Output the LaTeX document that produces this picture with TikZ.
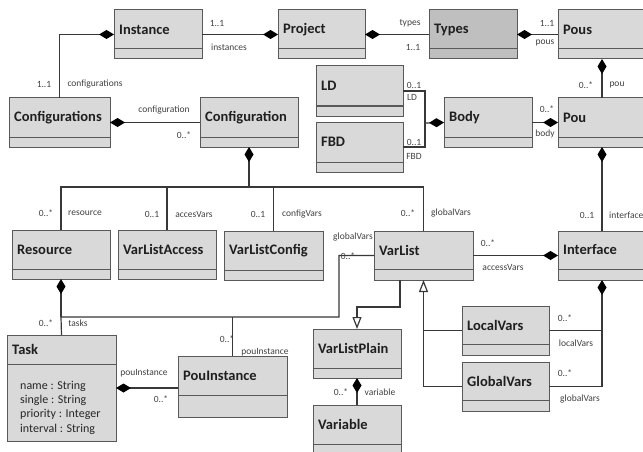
\documentclass[tikz,border=0pt]{standalone}
\usepackage{fontspec}
\setmainfont{Carlito}
\usetikzlibrary{arrows.meta}

\definecolor{boxfill}{HTML}{D9D9D9}
\definecolor{typesfill}{HTML}{BFBFBF}
\definecolor{boxedge}{HTML}{595959}
\definecolor{edge}{HTML}{383838}
\definecolor{labeltext}{HTML}{404040}

\tikzset{
  cls/.style={draw=boxedge, line width=1pt, inner sep=0pt, outer sep=0pt, anchor=north west},
  clstitle/.style={font=\fontsize{14.5}{16}\selectfont\bfseries, text=black!88, anchor=west, inner sep=0pt},
  conn/.style={draw=edge, line width=1.2pt},
  heavy/.style={draw=edge, line width=2pt},
  comp/.style={-{Diamond[length=15pt,width=9pt,fill=black,color=black]}},
  gen/.style={-{Triangle[open,length=12pt,width=9pt,fill=white]}},
  lbl/.style={font=\fontsize{9.5}{10}\selectfont, text=labeltext, inner sep=0pt},
  attrs/.style={font=\fontsize{12}{14.3}\selectfont, text=black!85, align=left, inner sep=0pt, anchor=west},
}

% class box: [fill]{name}{x}{y}{width}{height}{attribute height}{title}
\newcommand{\classbox}[8][boxfill]{%
  \node[cls, fill=#1, minimum width=#5, minimum height=#6] (#2) at (#3,#4) {};
  \draw[boxedge, line width=1pt] ([yshift=#7pt]#2.south west) -- ([yshift=#7pt]#2.south east);
  \pgfmathsetmacro\titleoff{(#6-#7)/2}
  \node[clstitle] at ([xshift=5pt, yshift=-\titleoff pt]#2.north west) {#8};
}

\begin{document}
\begin{tikzpicture}[x=1pt, y=-1pt]
\useasboundingbox (0,0) rectangle (643,452);
\clip (0,0) rectangle (643,452);

% classes
\classbox{inst}{114}{10}{88}{49}{10}{Instance}
\classbox{proj}{278}{10}{87}{49}{10}{Project}
\classbox[typesfill]{types}{429}{10}{88}{49}{10}{Types}
\classbox{pous}{558}{10}{88}{49}{10}{Pous}
\classbox{cfgs}{9}{98}{101}{49}{10}{Configurations}
\classbox{cfg}{200}{98}{98}{49}{10}{Configuration}
\classbox{ld}{316}{66}{87}{50}{10}{LD}
\classbox{fbd}{316}{122}{87}{50}{10}{FBD}
\classbox{body}{444}{98}{88}{49}{10}{Body}
\classbox{pou}{558}{98}{88}{49}{10}{Pou}
\classbox{res}{12}{230}{98}{49}{10}{Resource}
\classbox{vla}{118}{230}{98}{49}{10}{VarListAccess}
\classbox{vlc}{224}{231}{99}{49}{10}{VarListConfig}
\classbox{vl}{374}{231}{99}{49}{11}{VarList}
\classbox{intf}{558}{231}{88}{49}{11}{Interface}
\classbox{task}{7}{335}{109}{106}{77}{Task}
\classbox{pinst}{178}{356}{109}{61}{22}{PouInstance}
\classbox{lv}{462}{306}{87}{49}{11}{LocalVars}
\classbox{gv}{462}{362}{87}{49}{11}{GlobalVars}
\classbox{vlp}{313}{329}{88}{49}{10}{VarListPlain}
\classbox{var}{313}{405}{88}{49}{10}{Variable}

\node[attrs] (taskattrs) at (20,407.5) {name : String\\ single : String\\ priority : Integer\\ interval : String};

% junction points
\coordinate (bodyjoin) at (425,123);
\coordinate (cfgjoin) at (249,187);
\coordinate (resjoin) at (61,317);
\coordinate (resbend) at (339,317);
\coordinate (intfjoin) at (602,387);
\coordinate (plainbend) at (400,307);

% compositions
\draw[conn, comp] (cfgs.north) |- (inst.west);
\draw[conn, comp] (inst.east) -- (proj.west);
\draw[conn, comp] (types.west) -- (proj.east);
\draw[conn, comp] (pous.west) -- (types.east);
\draw[conn, comp] (pou.north) -- (pous.south);
\draw[conn, comp] (body.east) -- (pou.west);
\draw[conn] (ld.east) -| (bodyjoin) |- (fbd.east);
\draw[conn, comp] (bodyjoin) -- (body.west);
\draw[conn, comp] (cfg.west) -- (cfgs.east);
\draw[heavy, comp] (cfgjoin) -- (cfg.south);
\draw[conn] (res.north) |- (cfgjoin) -| (vl.north);
\draw[conn] (vla.north) -- (vla.north |- cfgjoin);
\draw[conn] (vlc.north) -- (vlc.north |- cfgjoin);
\draw[heavy, comp] (resjoin) -- (res.south);
\draw[conn] (task.north) -- (resjoin) -- (resbend) |- (vl.west);
\draw[conn] (pinst.north) -- (pinst.north |- resjoin);
\draw[conn, comp] (pinst.west |- task.east) -- (task.east);
\draw[conn, comp] (vl.east) -- (intf.west);
\draw[conn, comp] (intf.north) -- (pou.south);
\draw[conn, comp] (intfjoin) -- (intf.south);
\draw[conn] (lv.east) -- (lv.east -| intfjoin);
\draw[conn] (gv.east -| intfjoin) -- (gv.east);
\draw[conn, comp] (var.north) -- (vlp.south);

% generalizations
\draw[conn, gen] (gv.west) -| (vl.south);
\draw[conn] (lv.west) -- (lv.west -| vl.south);
\draw[conn, gen] (vl.south -| plainbend) -- (plainbend) -| (vlp.north);

% role names and multiplicities
\node[lbl] at (217,23) {1..1};
\node[lbl] at (229,47) {instances};
\node[lbl] at (44,84) {1..1};
\node[lbl] at (95,84) {configurations};
\node[lbl] at (164,110) {configuration};
\node[lbl] at (184,135) {0..*};
\node[lbl] at (410,23) {types};
\node[lbl] at (413,47) {1..1};
\node[lbl] at (547,23) {1..1};
\node[lbl] at (545,43) {pous};
\node[lbl] at (586,85) {0..*};
\node[lbl] at (617,85) {pou};
\node[lbl] at (414,85) {0..1};
\node[lbl] at (412,97) {LD};
\node[lbl] at (414,142) {0..1};
\node[lbl] at (414,156) {FBD};
\node[lbl] at (547,109) {0..*};
\node[lbl] at (545,134) {body};
\node[lbl] at (46,213) {0..*};
\node[lbl] at (85,213) {resource};
\node[lbl] at (152,214) {0..1};
\node[lbl] at (194,214) {accesVars};
\node[lbl] at (258,214) {0..1};
\node[lbl] at (302,214) {configVars};
\node[lbl] at (408,213) {0..*};
\node[lbl] at (451,213) {globalVars};
\node[lbl] at (587,215) {0..1};
\node[lbl, anchor=west] at (609,215) {interface};
\node[lbl] at (46,323) {0..*};
\node[lbl] at (78,323) {tasks};
\node[lbl] at (353,237) {globalVars};
\node[lbl] at (348,256) {0..*};
\node[lbl] at (488,243) {0..*};
\node[lbl] at (503,267) {accessVars};
\node[lbl] at (565,318) {0..*};
\node[lbl] at (576,343) {localVars};
\node[lbl] at (565,373) {0..*};
\node[lbl] at (580,399) {globalVars};
\node[lbl] at (341,392) {0..*};
\node[lbl] at (380,392) {variable};
\node[lbl] at (144,373) {pouInstance};
\node[lbl] at (161,399) {0..*};
\node[lbl] at (227,339) {0..*};
\node[lbl] at (265,352) {pouInstance};
\end{tikzpicture}
\end{document}
